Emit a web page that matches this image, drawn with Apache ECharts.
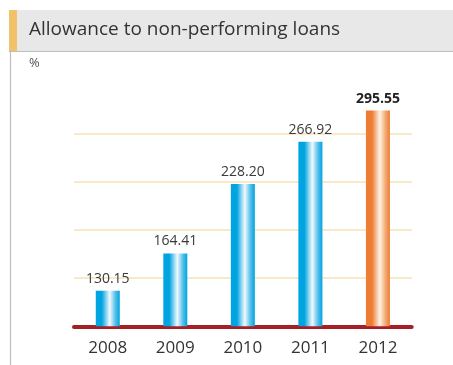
<!DOCTYPE html>
<html>
<head>
<meta charset="utf-8">
<style>
  html, body { margin: 0; padding: 0; background: #ffffff; }
  #chart { width: 453px; height: 365px; }
</style>
<script src="https://cdn.jsdelivr.net/npm/echarts@6/dist/echarts.min.js"></script>
</head>
<body>
<div id="chart"></div>
<script>
// Allowance to non-performing loans, %, by year
const categories = ['2008', '2009', '2010', '2011', '2012'];
const ratios = [130.15, 164.41, 228.20, 266.92, 295.55];
const highlightYear = '2012';

const FONT = '"Open Sans", "Noto Sans", sans-serif';

function barGradient(edge, mid, glow) {
  return new echarts.graphic.LinearGradient(0, 0, 1, 0, [
    { offset: 0, color: edge },
    { offset: 0.25, color: edge },
    { offset: 0.58, color: glow },
    { offset: 0.82, color: mid },
    { offset: 1, color: edge }
  ]);
}
const blueFill = barGradient('#00a4e1', '#52bfea', '#f2f9fd');
const orangeFill = barGradient('#ee7c33', '#f3a870', '#fef3e6');

const barData = ratios.map((v, i) => {
  const hot = categories[i] === highlightYear;
  return {
    value: v,
    itemStyle: { color: hot ? orangeFill : blueFill },
    label: hot ? { fontWeight: 'bold', color: '#222' } : {}
  };
});

const chart = echarts.init(document.getElementById('chart'), null, { renderer: 'canvas' });
chart.setOption({
  animation: false,
  backgroundColor: '#ffffff',
  graphic: [
    // header band
    { type: 'rect', shape: { x: 9, y: 10, width: 444, height: 41 }, style: { fill: '#e8e8e9' }, silent: true },
    { type: 'rect', shape: { x: 9, y: 10, width: 8, height: 41 }, style: { fill: '#f2c26a' }, silent: true },
    { type: 'line', shape: { x1: 9, y1: 51.5, x2: 453, y2: 51.5 }, style: { stroke: '#bdbdbd', lineWidth: 1.2 }, silent: true },
    { type: 'line', shape: { x1: 10.5, y1: 51, x2: 10.5, y2: 365 }, style: { stroke: '#bdbdbd', lineWidth: 1.2 }, silent: true },
    {
      type: 'text', left: 29, top: 20,
      style: { text: 'Allowance to non-performing loans', font: '400 19px ' + FONT, fill: '#333333' },
      silent: true
    },
    {
      type: 'text', left: 29, top: 57,
      style: { text: '%', font: '400 13px ' + FONT, fill: '#555555' },
      silent: true
    }
  ],
  grid: { left: 74, right: 41.3, top: 85.4, bottom: 38.7 },
  xAxis: {
    type: 'category',
    data: categories,
    axisLine: { show: true, onZero: false, lineStyle: { color: '#a51f27', width: 4 } },
    axisTick: { show: false },
    axisLabel: { color: '#333333', fontSize: 17, fontFamily: FONT, margin: 13 }
  },
  yAxis: [
    {
      type: 'value', min: 97.6, max: 318.6,
      show: false
    },
    {
      type: 'value', min: 0, max: 5, interval: 1,
      axisLine: { show: false }, axisTick: { show: false }, axisLabel: { show: false },
      splitLine: { show: true, showMinLine: false, showMaxLine: false, lineStyle: { color: '#f6e3b6', width: 1.6 } }
    }
  ],
  series: [
    {
      type: 'bar',
      yAxisIndex: 0,
      data: barData,
      barWidth: 24,
      z: 3,
      label: {
        show: true,
        position: 'top',
        distance: 5,
        fontSize: 14,
        fontFamily: FONT,
        color: '#3a3a3a',
        formatter: p => p.value.toFixed(2)
      }
    }
  ]
});
</script>
</body>
</html>
